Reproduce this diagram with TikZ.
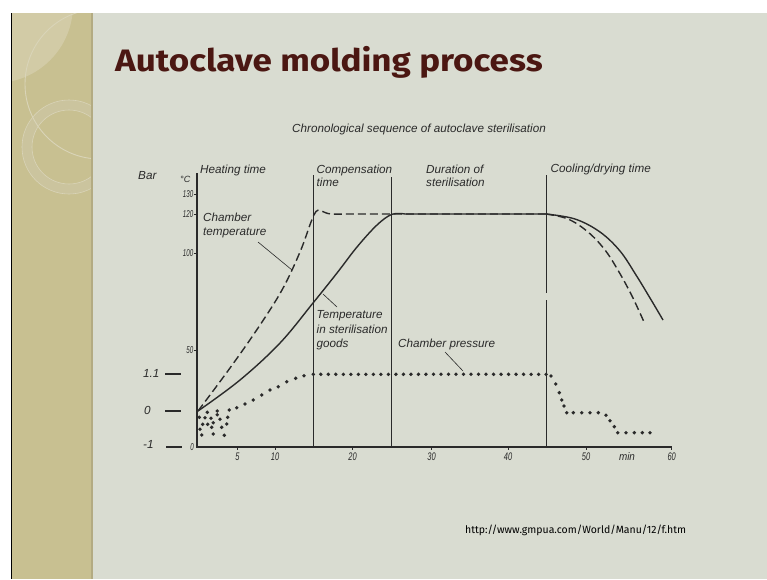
\documentclass[tikz,border=0pt]{standalone}
\usepackage{fontspec}
\setmainfont{Liberation Sans}
\newfontfamily\titlefont{Fira Sans}
\definecolor{slidebg}{HTML}{D9DCD1}
\definecolor{sidebar}{HTML}{C8C091}
\definecolor{sidelight}{HTML}{D2CBA6}
\definecolor{ringfill}{HTML}{CBC49E}
\definecolor{ringedge}{HTML}{D9D4B8}
\definecolor{sideshade}{HTML}{B3AB82}
\definecolor{titlered}{HTML}{4B1712}
\definecolor{ink}{HTML}{2A2A2A}
\newcommand\lblfont{\itshape\fontsize{11.7}{14}\selectfont}
\newcommand\numfont{\itshape\fontsize{10}{11}\selectfont}
\newcommand\xnumfont{\itshape\fontsize{11}{12}\selectfont}
\newcommand\narrow[2][0.68]{\scalebox{#1}[1]{#2}}
\tikzset{
  lbl/.style={font=\lblfont, text=ink, inner sep=0pt, anchor=base west},
  numlbl/.style={font=\numfont, text=ink, inner sep=0pt},
  xnumlbl/.style={font=\xnumfont, text=ink, inner sep=0pt},
  axisline/.style={draw=ink, line width=1.1pt},
  phaseline/.style={draw=ink, line width=0.9pt},
  leader/.style={draw=ink, line width=0.6pt},
  goodscurve/.style={draw=ink, line width=1.4pt, line join=round},
  chambercurve/.style={draw=ink, line width=1.4pt, dash pattern=on 8pt off 4pt},
  bardash/.style={draw=ink, line width=1.8pt},
  pdot/.style={fill=ink},
}
\begin{document}
\begin{tikzpicture}[x=1pt,y=-1pt]
\useasboundingbox (0,0) rectangle (767,579);
% slide frame
\fill[white] (0,0) rectangle (767,579);
\fill[slidebg] (11,13) rectangle (767,579);
% decorated side band
\begin{scope}
  \clip (12,13) rectangle (91,579);
  \fill[sidebar] (12,13) rectangle (91,579);
  \fill[sidelight] (-5,5) circle (78pt);
  \fill[ringfill, even odd rule] (69,147) circle (47pt) (69,147) circle (37pt);
  \draw[ringedge, line width=0.6pt] (69,147) circle (47pt) (69,147) circle (37pt);
  \draw[ringedge, line width=0.9pt] (100,84) circle (75pt);
\end{scope}
\draw[black, line width=1.2pt] (11.5,13) -- (11.5,579);
\draw[sideshade, line width=1.5pt] (91.8,13) -- (91.8,579);

% titles
\node[anchor=base west, inner sep=0pt, font=\titlefont\bfseries\fontsize{31}{36}\selectfont, text=titlered] (title) at (115,71) {\scalebox{1.13}[1]{Autoclave molding process}};
\node[font=\lblfont, text=ink, inner sep=0pt, anchor=base] (subtitle) at (419,132.3) {Chronological sequence of autoclave sterilisation};

% axes
\draw[axisline] (197,173) -- (197,447) -- (672,447);
\draw[phaseline] (313,175) -- (313,447);
\draw[phaseline] (391,177) -- (391,447);
\draw[phaseline] (546,175) -- (546,293);
\draw[phaseline] (546,300) -- (546,447);

% temperature scale
\node[lbl] (degc) at (180,182) {\fontsize{9}{10}\selectfont °C};
\node[lbl] (barlbl) at (138,179.3) {Bar};
\foreach \t/\y in {130/194, 120/214, 100/253, 50/350}{
  \draw[ink, line width=0.6pt] (193.5,\y) -- (197,\y);
  \node[numlbl, anchor=base east] (t\t) at (193.5,\y+3.4) {\narrow[0.62]{\t}};
}
\node[numlbl, anchor=base east] (tzero) at (194,450.5) {\narrow[0.62]{0}};

% time scale
\foreach \m/\x in {5/237.5, 10/275, 20/352.5, 30/431.5, 40/508, 50/586, 60/671.7}{
  \draw[ink, line width=0.6pt] (\x,447) -- (\x,450);
  \node[xnumlbl, anchor=base] (m\m) at (\x,460.5) {\narrow{\m}};
}
\node[xnumlbl, anchor=base] (minlbl) at (627,460.5) {\narrow[0.9]{min}};

% pressure scale
\draw[bardash] (165,374) -- (181,374);
\draw[bardash] (165,411) -- (181,411);
\draw[bardash] (166,447) -- (182,447);
\node[lbl] (p11) at (143,377.8) {1.1};
\node[lbl] (p0) at (144,414.5) {0};
\node[lbl] (pm1) at (143,448.5) {-1};

% phase captions
\node[lbl] (heat) at (200,173) {Heating time};
\node[lbl] (comp1) at (316.5,173.3) {Compensation};
\node[lbl] (comp2) at (316.5,186.5) {time};
\node[lbl] (dur1) at (426,173) {Duration of};
\node[lbl] (dur2) at (426,186.5) {sterilisation};
\node[lbl] (cool) at (550.5,172) {Cooling/drying time};

% chamber temperature
\draw[chambercurve] plot[smooth, tension=0.6] coordinates {
  (198,411) (230,368) (258,328) (282,290) (300,252) (311,222)
  (316,211.5) (320,210.5) (325,212.5) (331,214) (345,214)}
  -- (546,214)
  plot[smooth, tension=0.6] coordinates {
  (546,214) (568,219) (588,232) (605,250) (619,272) (632,296) (644,322)};
% temperature in the goods
\draw[goodscurve] plot[smooth, tension=0.6] coordinates {
  (198,411) (240,380) (280,343) (313,303) (337,273) (357,247) (377,225) (392,214.3) (405,214)}
  -- (546,214)
  plot[smooth, tension=0.6] coordinates {
  (546,214) (575,219) (600,232) (620,251) (636,275) (650,298) (663,320)};

% chamber pressure
\foreach \p in {(207.3,412.3),(217.3,411),(217.3,414.7),(199.3,417.3),(205,417.7),(211,418.3),
  (220,419.3),(227.7,417.3),(202.7,424.3),(207.7,424.3),(213.3,422.7),(226.7,424),(221.7,427.3),
  (211.7,427.3),(200,429.3),(201.7,435),(213.3,434),(224.3,435.3),
  (229.3,410),(236.7,407.7),(245,404),(253.3,400),(261.7,395),(270,390),(278.3,386.7),
  (286.7,381.7),(295.7,378.3),(304,375.7),
  (551,376),(555.7,384),(559.3,392.7),(561.7,400),(564,406),(566.7,412.7),(573.3,412.7),
  (581.7,412.7),(590,412.7),(598.3,412.7),(606,415.3),(610,420.7),(614.3,426.7),(617.7,432.7),
  (626,432.7),(634.3,432.7),(642.3,432.7),(650,432.7)}
  \fill[pdot] \p circle (1.9pt);
\foreach \i in {0,...,31}
  \fill[pdot] (313.3+\i*7.51,374.3) circle (1.9pt);

% curve captions and leaders
\node[lbl] (ct1) at (203,221.7) {Chamber};
\node[lbl] (ct2) at (203,235) {temperature};
\coordinate (ctfrom) at (258,242);
\coordinate (ctto) at (292,270);
\draw[leader] (ctfrom) -- (ctto);

\node[lbl] (tg1) at (316.5,318.3) {Temperature};
\node[lbl] (tg2) at (316.5,333) {in sterilisation};
\node[lbl] (tg3) at (316.5,347.5) {goods};
\coordinate (tgfrom) at (323,294);
\coordinate (tgto) at (337,307);
\draw[leader] (tgfrom) -- (tgto);

\node[lbl] (cp) at (398,347.5) {Chamber pressure};
\coordinate (cpfrom) at (445,352);
\coordinate (cpto) at (463,371);
\draw[leader] (cpfrom) -- (cpto);

% source
\node[anchor=base west, inner sep=0pt, font=\titlefont\fontsize{10.5}{12}\selectfont, text=black] (src) at (465,533) {http://www.gmpua.com/World/Manu/12/f.htm};
\end{tikzpicture}
\end{document}
